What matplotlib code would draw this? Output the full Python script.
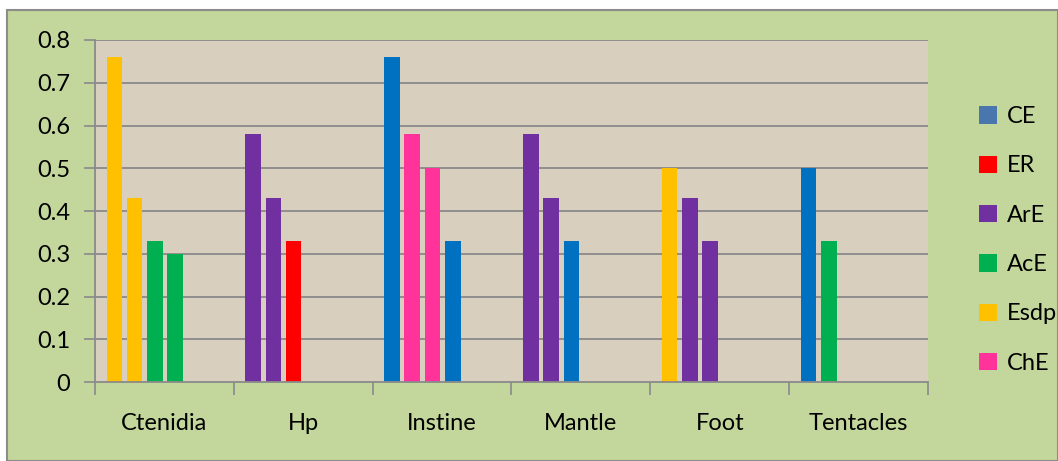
import matplotlib
matplotlib.use("Agg")
import matplotlib.pyplot as plt
from matplotlib.patches import Patch, Rectangle

plt.rcParams['font.family'] = ['Lato', 'DejaVu Sans']

categories = ['Ctenidia', 'Hp', 'Instine', 'Mantle', 'Foot', 'Tentacles']

# bar values per category, in drawing order, with the enzyme each bar is coloured by
ctenidia = [0.76, 0.43, 0.33, 0.30]
ctenidia_kind = ['Esdp', 'Esdp', 'AcE', 'AcE']
hp = [0.58, 0.43, 0.33]
hp_kind = ['ArE', 'ArE', 'ER']
instine = [0.76, 0.58, 0.50, 0.33]
instine_kind = ['CE', 'ChE', 'ChE', 'CE']
mantle = [0.58, 0.43, 0.33]
mantle_kind = ['ArE', 'ArE', 'CE']
foot = [0.50, 0.43, 0.33]
foot_kind = ['Esdp', 'ArE', 'ArE']
tentacles = [0.50, 0.33]
tentacles_kind = ['CE', 'AcE']

legend_labels = ['CE', 'ER', 'ArE', 'AcE', 'Esdp', 'ChE']
yticks = [0, 0.1, 0.2, 0.3, 0.4, 0.5, 0.6, 0.7, 0.8]
ytick_labels = ['0', '0.1', '0.2', '0.3', '0.4', '0.5', '0.6', '0.7', '0.8']

bar_colors = {'CE': '#0070C0', 'ER': '#FF0000', 'ArE': '#7030A0',
              'AcE': '#00B050', 'Esdp': '#FFC000', 'ChE': '#FF3399'}
legend_colors = {'CE': '#4A76AE', 'ER': '#FF0000', 'ArE': '#7030A0',
                 'AcE': '#00B050', 'Esdp': '#FFC000', 'ChE': '#FF3399'}

groups = [(ctenidia, ctenidia_kind), (hp, hp_kind), (instine, instine_kind),
          (mantle, mantle_kind), (foot, foot_kind), (tentacles, tentacles_kind)]

green = '#C3D69B'
grid_c = '#8A8A8A'

fig = plt.figure(figsize=(10.58, 4.61), dpi=100)
fig.patch.set_facecolor('white')
# chart area with grey border
fig.patches.append(Rectangle((7 / 1058, 0), 1 - 7 / 1058, 1 - 10 / 461,
                             transform=fig.transFigure, facecolor=green,
                             edgecolor='#8C8C8C', linewidth=1.5, zorder=-10))

ax = fig.add_axes([95 / 1058, 79 / 461, 833 / 1058, 342 / 461])
ax.set_facecolor('#D9CFBE')

left_off = 0.083
step = 0.146
bw = 0.112
for ci, (vals, kinds) in enumerate(groups):
    for j, (v, k) in enumerate(zip(vals, kinds)):
        ax.bar(ci + left_off + j * step, v, width=bw, align='edge',
               color=bar_colors[k], zorder=3)

ax.set_xlim(0, len(categories))
ax.set_ylim(0, 0.8)

ax.set_yticks(yticks)
ax.set_yticklabels(ytick_labels, fontsize=17)
ax.set_xticks(range(len(categories) + 1))
ax.set_xticklabels([''] * (len(categories) + 1))
ax.set_xticks([i + 0.5 for i in range(len(categories))], minor=True)
ax.set_xticklabels(categories, minor=True, fontsize=17)
ax.tick_params(axis='x', which='minor', length=0, pad=22)
ax.tick_params(axis='x', which='major', length=9, width=1.2, color=grid_c)
ax.tick_params(axis='y', length=8, width=1.2, color=grid_c, pad=10)

for y in yticks[1:]:
    ax.axhline(y, color=grid_c, linewidth=1.3, zorder=1)

for s in ['top', 'right']:
    ax.spines[s].set_visible(False)
for s in ['left', 'bottom']:
    ax.spines[s].set_color(grid_c)
    ax.spines[s].set_linewidth(1.3)
    ax.spines[s].set_zorder(4)

handles = [Patch(facecolor=legend_colors[k], edgecolor='none') for k in legend_labels]
fig.legend(handles, legend_labels, loc='center left',
           bbox_to_anchor=(967 / 1058, 221 / 461), frameon=False,
           fontsize=17, handlelength=0.75, handleheight=0.75,
           handletextpad=0.45, labelspacing=1.2, borderpad=0)

fig.savefig('out.png', dpi=100, facecolor=fig.get_facecolor())
